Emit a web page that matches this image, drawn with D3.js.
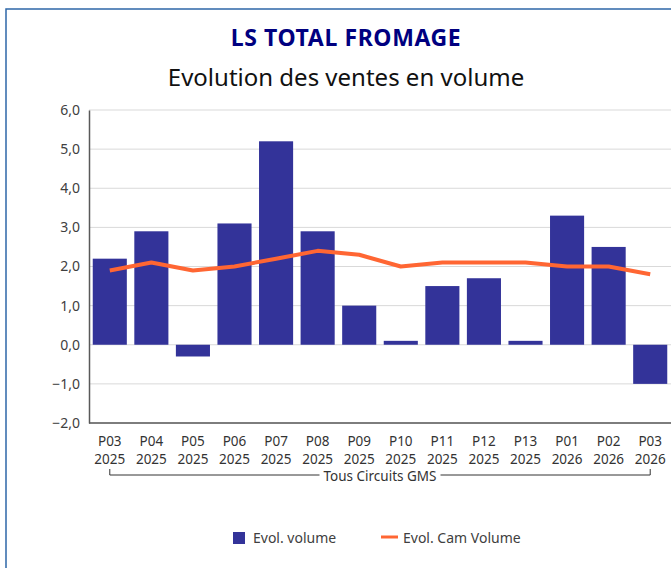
<!DOCTYPE html>
<html>
<head>
<meta charset="utf-8">
<script src="https://cdn.jsdelivr.net/npm/d3@7"></script>
<style>
  body { margin: 0; background: #fff; }
  svg { display: block; font-family: "Noto Sans", sans-serif; }
</style>
</head>
<body>
<div id="chart"></div>
<script>
// data
const periods = ['P03', 'P04', 'P05', 'P06', 'P07', 'P08', 'P09', 'P10', 'P11', 'P12', 'P13', 'P01', 'P02', 'P03'];
const years = ['2025', '2025', '2025', '2025', '2025', '2025', '2025', '2025', '2025', '2025', '2025', '2026', '2026', '2026'];
const evolVolume = [2.2, 2.9, -0.3, 3.1, 5.2, 2.9, 1.0, 0.1, 1.5, 1.7, 0.1, 3.3, 2.5, -1.0];
const evolCam = [1.9, 2.1, 1.9, 2.0, 2.2, 2.4, 2.3, 2.0, 2.1, 2.1, 2.1, 2.0, 2.0, 1.8];
const yTicks = [-2, -1, 0, 1, 2, 3, 4, 5, 6];

const width = 671, height = 568;
const margin = {left: 89, right: 0, top: 110, bottom: 145};

const svg = d3.select('#chart').append('svg')
    .attr('width', width)
    .attr('height', height);

// cadre
svg.append('rect')
    .attr('x', 6).attr('y', 9)
    .attr('width', width + 10).attr('height', height + 10)
    .attr('fill', 'none')
    .attr('stroke', '#2e67a8')
    .attr('stroke-width', 1.5);

svg.append('text')
    .attr('x', 346).attr('y', 46)
    .attr('text-anchor', 'middle')
    .attr('font-size', 23).attr('font-weight', 'bold')
    .attr('fill', '#000080')
    .attr('letter-spacing', 0.6)
    .text('LS TOTAL FROMAGE');

svg.append('text')
    .attr('x', 346).attr('y', 86)
    .attr('text-anchor', 'middle')
    .attr('font-size', 24)
    .attr('fill', '#111')
    .text('Evolution des ventes en volume');

const idx = d3.range(periods.length);

const x = d3.scaleBand()
    .domain(idx)
    .range([margin.left, width - margin.right])
    .paddingInner(0.18)
    .paddingOuter(0.09);

const y = d3.scaleLinear()
    .domain([-2, 6])
    .range([height - margin.bottom, margin.top]);

// grille
svg.append('g').selectAll('line')
    .data(yTicks)
    .enter().append('line')
    .attr('x1', margin.left).attr('x2', width)
    .attr('y1', d => y(d)).attr('y2', d => y(d))
    .attr('stroke', '#d9d9d9')
    .attr('stroke-width', 1);

// axe Y
const yAxis = svg.append('g')
    .attr('transform', `translate(${margin.left},0)`)
    .call(d3.axisLeft(y).tickValues(yTicks).tickSize(0).tickPadding(9)
        .tickFormat(d => d3.format('.1f')(d).replace('.', ',')));
yAxis.select('.domain').attr('stroke', '#595959').attr('stroke-width', 1.5);
yAxis.selectAll('text').attr('font-size', 14).attr('fill', '#404040')
    .attr('font-family', '"Noto Sans", sans-serif');

// barres
svg.append('g').selectAll('rect')
    .data(evolVolume)
    .enter().append('rect')
    .attr('x', (d, i) => x(i))
    .attr('width', x.bandwidth())
    .attr('y', d => y(Math.max(0, d)))
    .attr('height', d => Math.abs(y(d) - y(0)))
    .attr('fill', '#333399');

// ligne CAM
const line = d3.line()
    .x((d, i) => x(i) + x.bandwidth() / 2)
    .y(d => y(d));

svg.append('path')
    .datum(evolCam)
    .attr('d', line)
    .attr('fill', 'none')
    .attr('stroke', '#ff6633')
    .attr('stroke-width', 4)
    .attr('stroke-linejoin', 'round');

// axe X bas
svg.append('line')
    .attr('x1', margin.left).attr('x2', width)
    .attr('y1', y(-2)).attr('y2', y(-2))
    .attr('stroke', '#595959').attr('stroke-width', 1.5);

// libellés période / année (deux lignes séparées)
const xLab = svg.append('g')
    .attr('font-size', 13.5)
    .attr('fill', '#333')
    .attr('text-anchor', 'middle');
xLab.selectAll('.per')
    .data(idx)
    .enter().append('text')
    .attr('class', 'per')
    .attr('x', i => x(i) + x.bandwidth() / 2)
    .attr('y', 446)
    .text(i => periods[i]);
xLab.selectAll('.yr')
    .data(idx)
    .enter().append('text')
    .attr('class', 'yr')
    .attr('x', i => x(i) + x.bandwidth() / 2)
    .attr('y', 464)
    .text(i => years[i]);

// accolade "Tous Circuits GMS"
const bx1 = x(0) + x.bandwidth() / 2, bx2 = x(idx.length - 1) + x.bandwidth() / 2;
const by = 475;
svg.append('path')
    .attr('d', `M${bx1},${by - 6}V${by}H${bx2}V${by - 6}`)
    .attr('fill', 'none').attr('stroke', '#333').attr('stroke-width', 1);
const mask = svg.append('rect').attr('fill', '#fff');
const lbl = svg.append('text')
    .attr('x', (bx1 + bx2) / 2).attr('y', by + 6)
    .attr('text-anchor', 'middle')
    .attr('font-size', 13.5).attr('fill', '#333')
    .text('Tous Circuits GMS');
const bb = lbl.node().getBBox();
mask.attr('x', bb.x - 4).attr('y', by - 2)
    .attr('width', bb.width + 8).attr('height', 4);

// légende
const leg = svg.append('g');
leg.append('rect').attr('x', 233).attr('y', 532).attr('width', 12).attr('height', 12).attr('fill', '#333399');
leg.append('text').attr('x', 253).attr('y', 543).attr('font-size', 14).attr('fill', '#404040').text('Evol. volume');
leg.append('line').attr('x1', 381).attr('x2', 398).attr('y1', 537).attr('y2', 537)
    .attr('stroke', '#ff6633').attr('stroke-width', 3);
leg.append('text').attr('x', 403).attr('y', 543).attr('font-size', 14).attr('fill', '#404040').text('Evol. Cam Volume');
</script>
</body>
</html>
